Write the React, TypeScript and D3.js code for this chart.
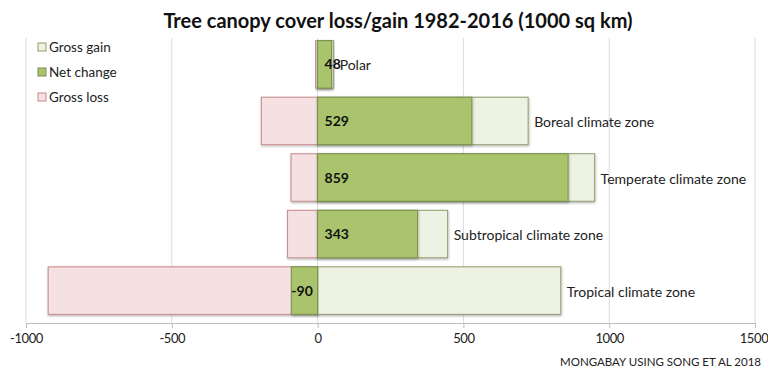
import * as d3 from 'd3';
import { useRef, useEffect } from 'react';

const categories = ['Polar', 'Boreal climate zone', 'Temperate climate zone', 'Subtropical climate zone', 'Tropical climate zone'];
const grossGain = [55, 722, 950, 446, 834];
const grossLoss = [-7, -193, -91, -103, -924];
const netChange = [48, 529, 859, 343, -90];
const xTicks = [-1000, -500, 0, 500, 1000, 1500];
const legendItems = ['Gross gain', 'Net change', 'Gross loss'];

const FONT = 'Lato, "Open Sans", sans-serif';

const App = () => {
  const svgRef = useRef<SVGSVGElement>(null);

  useEffect(() => {
    const svg = d3.select(svgRef.current);
    const width = 768;
    const height = 373;
    svg.selectAll('*').remove();
    svg.attr('width', width).attr('height', height);

    const colors = {
      gain: { fill: '#eef2e3', stroke: '#8e9b6c' },
      net: { fill: '#a9c46c', stroke: '#7a8f4c' },
      loss: { fill: '#f5e1e2', stroke: '#c68a8c' },
    };

    const top = 38;
    const bottom = 323;

    const x = d3.scaleLinear().domain([-1000, 1500]).range([26, 755]);
    const y = d3.scaleBand<string>()
      .domain(categories)
      .range([35, 320])
      .paddingInner(0.16)
      .paddingOuter(0.1);

    const defs = svg.append('defs');
    defs.append('filter')
      .attr('id', 'shadow')
      .attr('x', '-5%').attr('y', '-5%').attr('width', '110%').attr('height', '120%')
      .append('feDropShadow')
      .attr('dx', 0.5).attr('dy', 1.2).attr('stdDeviation', 0.8)
      .attr('flood-color', '#000').attr('flood-opacity', 0.3);

    // title
    svg.append('text')
      .attr('x', 398).attr('y', 28)
      .attr('text-anchor', 'middle')
      .style('font-family', FONT)
      .style('font-size', '20px')
      .style('font-weight', 'bold')
      .attr('fill', '#111')
      .text('Tree canopy cover loss/gain 1982-2016 (1000 sq km)');

    // gridlines
    svg.append('g')
      .selectAll('line')
      .data(xTicks)
      .enter().append('line')
      .attr('x1', d => x(d)).attr('x2', d => x(d))
      .attr('y1', top).attr('y2', bottom)
      .attr('stroke', '#dcdcdc')
      .attr('stroke-width', 1);

    const rows = categories.map((c, i) => ({ c, gain: grossGain[i], loss: grossLoss[i], net: netChange[i] }));
    const bars = svg.append('g');

    const drawBar = (key: 'gain' | 'net' | 'loss', val: (d: any) => number) => {
      bars.selectAll(`rect.${key}`)
        .data(rows)
        .enter().append('rect')
        .attr('class', key)
        .attr('x', d => x(Math.min(0, val(d))))
        .attr('y', d => y(d.c)!)
        .attr('width', d => Math.abs(x(val(d)) - x(0)))
        .attr('height', y.bandwidth())
        .attr('fill', colors[key].fill)
        .attr('stroke', colors[key].stroke)
        .attr('stroke-width', 1)
        .attr('filter', 'url(#shadow)');
    };
    drawBar('loss', d => d.loss);
    drawBar('gain', d => d.gain);
    drawBar('net', d => d.net);

    // value labels
    svg.append('g')
      .selectAll('text')
      .data(rows)
      .enter().append('text')
      .attr('x', d => d.net < 0 ? x(d.net) : x(0) + 7)
      .attr('y', d => y(d.c)! + y.bandwidth() / 2 + 5)
      .style('font-family', FONT)
      .style('font-size', '14px')
      .style('font-weight', 'bold')
      .attr('fill', '#111')
      .text(d => d.net);

    // category labels
    svg.append('g')
      .selectAll('text')
      .data(rows)
      .enter().append('text')
      .attr('x', d => x(d.gain) + 6)
      .attr('y', d => y(d.c)! + y.bandwidth() / 2 + 6)
      .style('font-family', FONT)
      .style('font-size', '14px')
      .attr('fill', '#222')
      .text(d => d.c);

    // bottom axis
    const axis = svg.append('g')
      .attr('transform', `translate(0,${bottom})`)
      .call(d3.axisBottom(x).tickValues(xTicks).tickSize(5).tickPadding(6).tickFormat(d => `${d}`));
    axis.select('.domain').attr('stroke', '#bdbdbd');
    axis.selectAll('.tick line').attr('stroke', '#bdbdbd');
    axis.selectAll('.tick text')
      .style('font-family', FONT)
      .style('font-size', '13px')
      .style('letter-spacing', '-0.4px')
      .attr('fill', '#222')
      .attr('dx', (d: any) => d === 1500 ? -1.5 : 0);

    // legend
    const legend = svg.append('g');
    const legendKeys: ('gain' | 'net' | 'loss')[] = ['gain', 'net', 'loss'];
    legendItems.forEach((label, i) => {
      const ly = 47 + i * 25;
      legend.append('rect')
        .attr('x', 38).attr('y', ly - 4)
        .attr('width', 8).attr('height', 8)
        .attr('fill', colors[legendKeys[i]].fill)
        .attr('stroke', colors[legendKeys[i]].stroke);
      legend.append('text')
        .attr('x', 49).attr('y', ly + 5)
        .style('font-family', FONT)
        .style('font-size', '13.5px')
        .attr('fill', '#222')
        .text(label);
    });

    // source
    svg.append('text')
      .attr('x', 761).attr('y', 366)
      .attr('text-anchor', 'end')
      .style('font-family', FONT)
      .style('font-size', '11.5px')
      .attr('fill', '#222')
      .text('MONGABAY USING SONG ET AL 2018');
  }, []);

  return (
    <div style={{ position: 'absolute', left: 0, top: 0, background: '#fff' }}>
      <svg ref={svgRef}></svg>
    </div>
  );
};

export default App;
